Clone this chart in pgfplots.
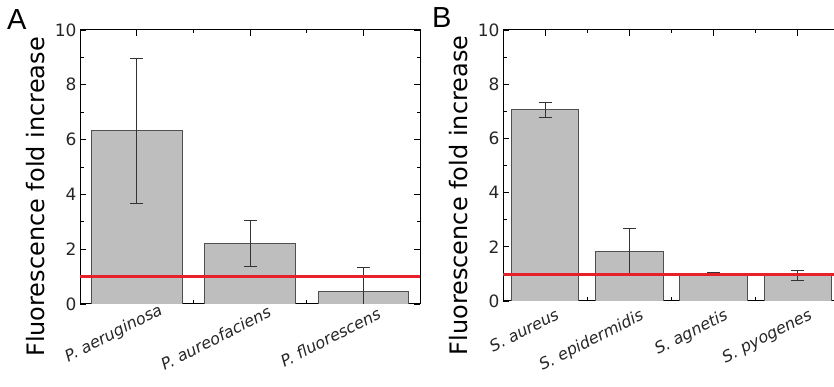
\documentclass[border=0pt]{standalone}
\usepackage{pgfplots}
\pgfplotsset{compat=1.18}
\usepackage{fontspec}
\setmainfont{DejaVu Sans}
\newfontfamily\arialf{Liberation Sans}
\newcommand{\xl}[1]{{\fontsize{16}{19}\selectfont\itshape #1}}
\definecolor{barfill}{HTML}{BEBEBE}
\definecolor{baredge}{HTML}{505050}
\definecolor{errcol}{HTML}{333333}
\definecolor{redline}{HTML}{E8202A}
\begin{document}
\begin{tikzpicture}
\pgfplotsset{
  panel/.style={
    scale only axis, anchor=south west,
    ymin=0, ymax=10, ytick={0,2,...,10}, minor ytick={1,3,5,7,9},
    tick align=inside, major tick length=6pt, minor tick length=3.5pt,
    axis line style={line width=1pt},
    every tick/.style={black, line width=0.8pt},
    /pgf/number format/assume math mode=true,
    y tick label style={font=\fontsize{17}{20}\selectfont, text=black!85},
    x tick label style={rotate=27, anchor=north east, text=black!85},
    every axis y label/.style={at={(axis description cs:0,0.5)}, xshift=-44pt, yshift=-30pt, rotate=90, anchor=center, font=\fontsize{24}{28}\selectfont},
    ylabel={Fluorescence fold increase},
  },
  bars/.style={ybar, bar width=0.8, fill=barfill, draw=baredge, line width=0.9pt,
    error bars/.cd, y dir=both, y explicit,
    error bar style={errcol, line width=0.8pt},
    error mark options={rotate=90, mark size=6.5pt, errcol, line width=0.8pt}},
}
\begin{axis}[panel, at={(80pt,83pt)}, width=340pt, height=274pt,
  xmin=0.5, xmax=3.5, xtick={1,2,3}, minor xtick={1.5,2.5},
  xticklabels={\xl{P. aeruginosa}, \xl{P. aureofaciens}\hspace*{5pt}, \xl{P. fluorescens}\hspace*{9pt}},
  x tick label style={xshift=23pt, yshift=-5pt}]
\addplot[bars] coordinates {(1,6.33) +- (0,2.65) (2,2.21) +- (0,0.83) (3,0.44) +- (0,0.89)};
\addplot[redline, line width=2.6pt] coordinates {(0.5,1) (3.5,1)};
\end{axis}
\begin{axis}[panel, at={(503pt,86pt)}, width=337pt, height=271pt,
  xmin=0.5, xmax=4.5, xtick={1,2,3,4}, minor xtick={1.5,2.5,3.5},
  xticklabels={\xl{S. aureus}, \xl{S. epidermidis}, \xl{S. agnetis}, \xl{S. pyogenes}},
  x tick label style={xshift=9pt, yshift=-7pt}]
\addplot[bars] coordinates {(1,7.06) +- (0,0.27) (2,1.83) +- (0,0.84) (3,1.03) +- (0,0.02) (4,0.95) +- (0,0.18)};
\addplot[redline, line width=2.6pt] coordinates {(0.5,0.98) (4.5,0.98)};
\end{axis}
\node[anchor=base west, inner sep=0pt, font=\arialf\fontsize{29}{32}\selectfont] at (7pt,357pt) {A};
\node[anchor=base west, inner sep=0pt, font=\arialf\fontsize{29}{32}\selectfont] at (432pt,359pt) {B};
\pgfresetboundingbox
\path[use as bounding box] (0pt,0pt) rectangle (834pt,387pt);
\end{tikzpicture}
\end{document}
